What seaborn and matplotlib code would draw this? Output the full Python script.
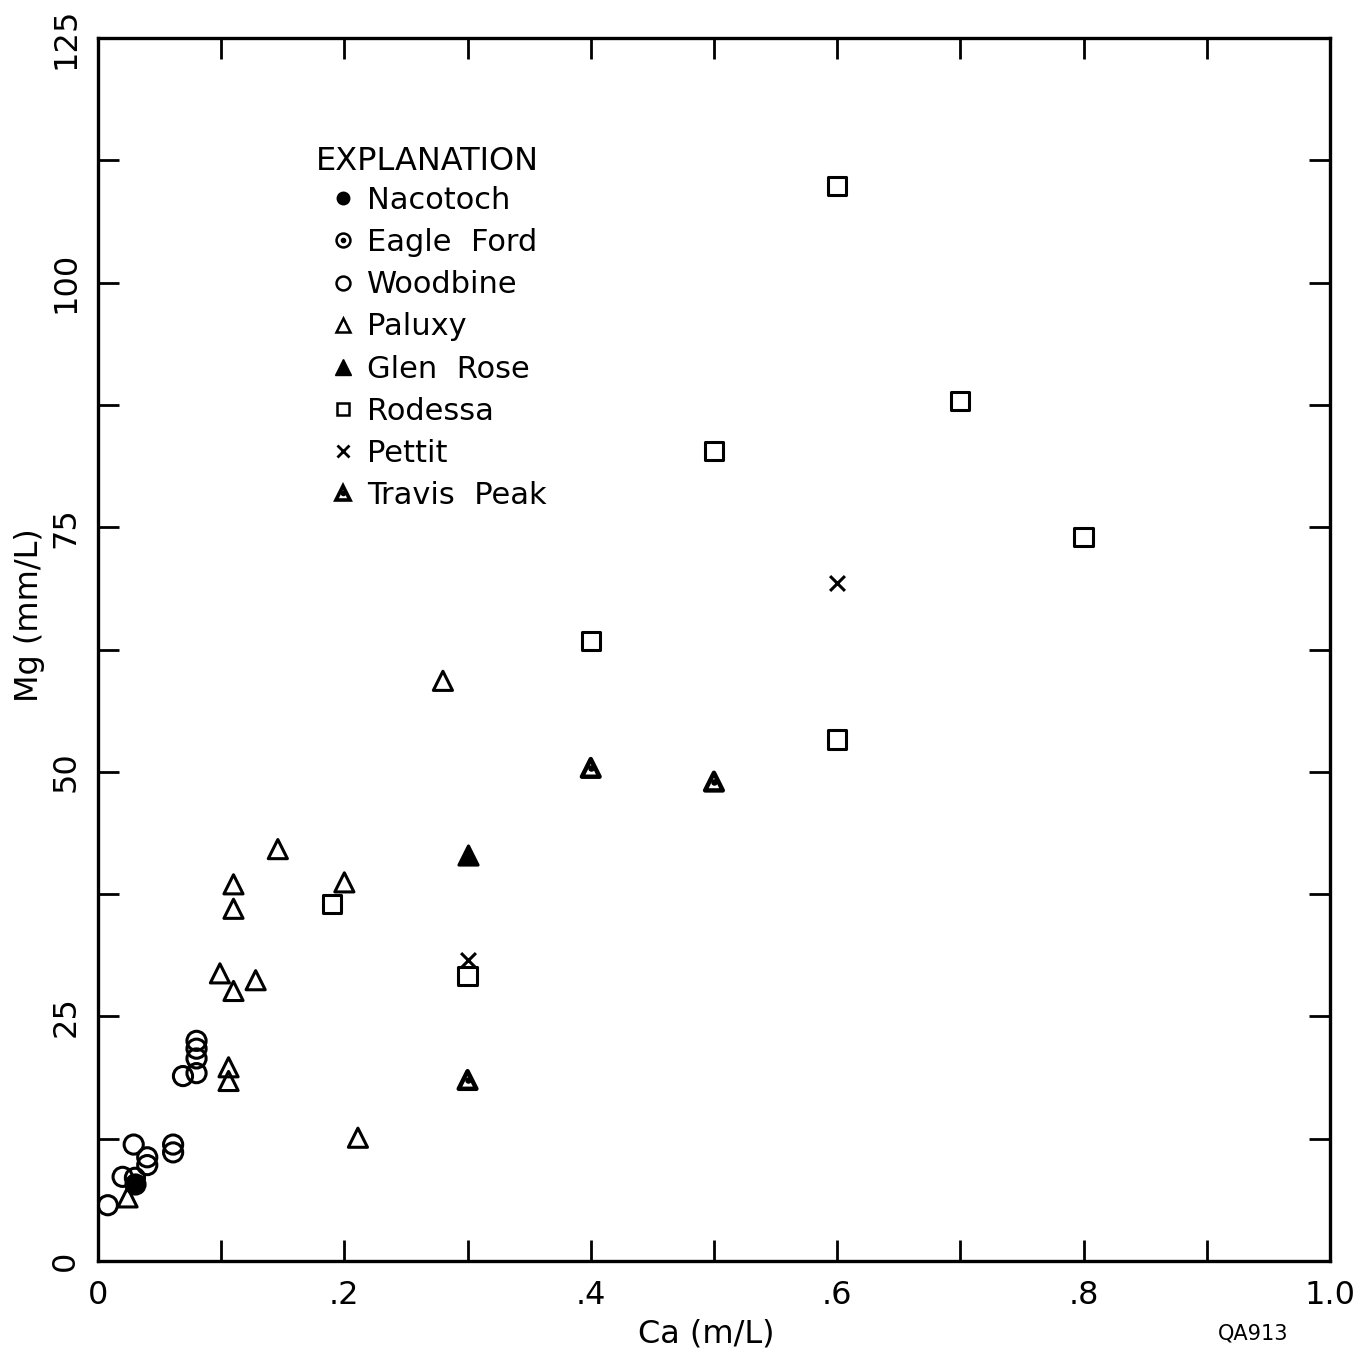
import matplotlib
matplotlib.use("Agg")
import matplotlib.pyplot as plt
import seaborn as sns
from matplotlib.lines import Line2D
from matplotlib.legend_handler import HandlerTuple

sns.set_theme(style="white")
plt.rcParams['font.family'] = ['DejaVu Sans']
plt.rcParams['text.color'] = 'black'
plt.rcParams['axes.labelcolor'] = 'black'

# ---- data (Ca m/L, Mg mm/L) ----
nacotoch_ca = [0.03]
nacotoch_mg = [7.9]
eagleford_ca = [0.03]
eagleford_mg = [8.5]
woodbine_ca = [0.008, 0.02, 0.029, 0.04, 0.04, 0.061, 0.061, 0.069, 0.08, 0.08, 0.08, 0.08]
woodbine_mg = [5.7, 8.6, 11.9, 10.6, 9.8, 11.9, 11.1, 18.9, 22.5, 21.7, 20.7, 19.2]
paluxy_ca = [0.024, 0.106, 0.106, 0.11, 0.099, 0.128, 0.11, 0.11, 0.146, 0.2, 0.211, 0.28]
paluxy_mg = [6.5, 19.8, 18.4, 27.6, 29.4, 28.7, 36.0, 38.5, 42.1, 38.7, 12.6, 59.3]
glenrose_ca = [0.3]
glenrose_mg = [41.5]
rodessa_ca = [0.19, 0.3, 0.4, 0.5, 0.6, 0.6, 0.7, 0.8]
rodessa_mg = [36.5, 29.1, 63.4, 82.8, 53.3, 109.9, 87.9, 74.0]
pettit_ca = [0.3, 0.6]
pettit_mg = [30.8, 69.3]
travis_ca = [0.3, 0.4, 0.5]
travis_mg = [18.5, 50.4, 49.0]

x_ticklabels = ["0", ".2", ".4", ".6", ".8", "1.0"]
y_ticklabels = ["0", "25", "50", "75", "100", "125"]
legend_labels = ["Nacotoch", "Eagle  Ford", "Woodbine", "Paluxy", "Glen  Rose",
                 "Rodessa", "Pettit", "Travis  Peak"]

fig = plt.figure(figsize=(13.55, 13.54), dpi=100)
ax = fig.add_axes([0.0723, 0.0687, 0.9092, 0.9032])

S = 190
LW = 2.2
k = 'black'

sns.scatterplot(x=woodbine_ca, y=woodbine_mg, ax=ax, marker='o', s=S,
                facecolor='none', edgecolor=k, linewidth=LW, zorder=3)
sns.scatterplot(x=eagleford_ca, y=eagleford_mg, ax=ax, marker='o', s=S,
                facecolor='none', edgecolor=k, linewidth=LW, zorder=3)
sns.scatterplot(x=eagleford_ca, y=eagleford_mg, ax=ax, marker='o', s=25,
                color=k, linewidth=0, zorder=3)
sns.scatterplot(x=nacotoch_ca, y=nacotoch_mg, ax=ax, marker='o', s=S,
                color=k, edgecolor=k, linewidth=LW, zorder=3)
sns.scatterplot(x=paluxy_ca, y=paluxy_mg, ax=ax, marker='^', s=S,
                facecolor='none', edgecolor=k, linewidth=LW, zorder=3)
sns.scatterplot(x=glenrose_ca, y=glenrose_mg, ax=ax, marker='^', s=S,
                color=k, edgecolor=k, linewidth=LW, zorder=3)
sns.scatterplot(x=rodessa_ca, y=rodessa_mg, ax=ax, marker='s', s=S * 0.9,
                facecolor='none', edgecolor=k, linewidth=LW, zorder=3)
sns.scatterplot(x=pettit_ca, y=pettit_mg, ax=ax, marker='x', s=S * 0.6,
                color=k, linewidth=LW, zorder=3)
sns.scatterplot(x=travis_ca, y=travis_mg, ax=ax, marker='^', s=S * 0.85,
                facecolor='none', edgecolor=k, linewidth=LW + 1.0, zorder=3)
sns.scatterplot(x=travis_ca, y=travis_mg, ax=ax, marker='o', s=22,
                color=k, linewidth=0, zorder=4)

ax.set_xlim(0, 1.0)
ax.set_ylim(0, 125)
ax.set_xticks([i / 10 for i in range(11)])
ax.set_xticklabels([x_ticklabels[i // 2] if i % 2 == 0 else "" for i in range(11)])
ax.set_yticks([i * 12.5 for i in range(11)])
ax.set_yticklabels([y_ticklabels[i // 2] if i % 2 == 0 else "" for i in range(11)],
                   rotation=90, va='center')
ax.tick_params(direction='in', length=15, width=2, top=True, right=True,
               bottom=True, left=True, labelsize=23, color=k, labelcolor=k)
ax.tick_params(axis='x', pad=14)
ax.tick_params(axis='y', pad=12)
for s in ax.spines.values():
    s.set_visible(True)
    s.set_color(k)
    s.set_linewidth(2.4)

ax.set_xlabel("Ca (m/L)", fontsize=23, color=k)
ax.set_ylabel("Mg (mm/L)", fontsize=23, color=k)
ax.xaxis.set_label_coords(0.494, -0.047)
ax.yaxis.set_label_coords(-0.043, 0.528)

ms = 10
handles = [
    Line2D([], [], marker='o', ls='none', color=k, markersize=ms * 0.9),
    (Line2D([], [], marker='o', ls='none', mfc='none', mec=k, mew=1.8, markersize=ms),
     Line2D([], [], marker='o', ls='none', color=k, markersize=3)),
    Line2D([], [], marker='o', ls='none', mfc='none', mec=k, mew=1.8, markersize=ms),
    Line2D([], [], marker='^', ls='none', mfc='none', mec=k, mew=1.8, markersize=ms),
    Line2D([], [], marker='^', ls='none', color=k, markersize=ms + 1),
    Line2D([], [], marker='s', ls='none', mfc='none', mec=k, mew=1.8, markersize=ms - 1),
    Line2D([], [], marker='x', ls='none', color=k, mew=2, markersize=ms - 1),
    (Line2D([], [], marker='^', ls='none', mfc='none', mec=k, mew=2.6, markersize=ms),
     Line2D([], [], marker='o', ls='none', color=k, markersize=3)),
]
leg = ax.legend(handles, legend_labels, loc='upper left',
                bbox_to_anchor=(0.184, 0.879), frameon=False, fontsize=22,
                labelspacing=0.43, handletextpad=0.2, borderpad=0,
                handlelength=1.2, borderaxespad=0,
                handler_map={tuple: HandlerTuple(ndivide=1, pad=0)})
for t in leg.get_texts():
    t.set_color(k)

ax.text(0.177, 0.899, "EXPLANATION", transform=ax.transAxes, fontsize=23,
        color=k, ha='left', va='center')

fig.text(0.925, 0.011, "QA913", fontsize=15, color=k, ha='center')

fig.savefig("out.png", dpi=100, facecolor='white')
